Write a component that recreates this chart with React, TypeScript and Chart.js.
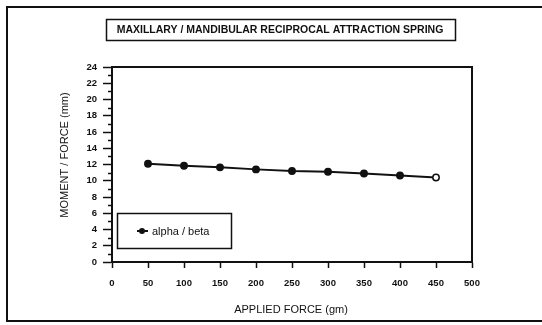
import React, { useEffect, useRef } from "react";
import { Chart, registerables } from "chart.js";

Chart.register(...registerables);

// ---- data ----
const appliedForce = [50, 100, 150, 200, 250, 300, 350, 400, 450];
const momentForceRatio = [12.1, 11.85, 11.65, 11.4, 11.2, 11.1, 10.9, 10.65, 10.4];
const seriesLabel = "alpha / beta";
const chartTitle = "MAXILLARY / MANDIBULAR RECIPROCAL ATTRACTION SPRING";
const xAxisTitle = "APPLIED FORCE (gm)";
const yAxisTitle = "MOMENT / FORCE (mm)";
const xRange = [0, 500];
const xStep = 50;
const yRange = [0, 24];
const yLabelStep = 2;

const FONT = '"Liberation Sans", Arial, Helvetica, sans-serif';
const INK = "#111";

const decorPlugin = {
  id: "decor",
  afterDraw(chart: any) {
    const ctx = chart.ctx as CanvasRenderingContext2D;
    const { left, right, top, bottom } = chart.chartArea;
    ctx.save();
    ctx.strokeStyle = INK;
    ctx.fillStyle = INK;

    // outer frame (right side runs off the page)
    ctx.lineWidth = 2;
    ctx.strokeRect(7, 7, 545, 314);

    // title box
    ctx.lineWidth = 1.5;
    ctx.strokeRect(106.5, 19.5, 349, 21);
    ctx.font = `bold 10.5px ${FONT}`;
    ctx.textAlign = "center";
    ctx.textBaseline = "middle";
    ctx.fillText(chartTitle, 280, 30.5);

    // plot frame top and right
    ctx.lineWidth = 2;
    ctx.beginPath();
    ctx.moveTo(left, top);
    ctx.lineTo(right, top);
    ctx.lineTo(right, bottom);
    ctx.stroke();

    // minor y ticks
    const ys = chart.scales.y;
    ctx.lineWidth = 1.5;
    for (let v = yRange[0] + 1; v < yRange[1]; v += yLabelStep) {
      const y = Math.round(ys.getPixelForValue(v)) + 0.5;
      ctx.beginPath();
      ctx.moveTo(left - 4, y);
      ctx.lineTo(left, y);
      ctx.stroke();
    }

    // axis titles
    ctx.font = `11px ${FONT}`;
    ctx.textAlign = "center";
    ctx.textBaseline = "middle";
    ctx.fillText(xAxisTitle, 291, 310);
    ctx.save();
    ctx.translate(65, 155);
    ctx.rotate(-Math.PI / 2);
    ctx.fillText(yAxisTitle, 0, 0);
    ctx.restore();

    // legend
    ctx.lineWidth = 1.5;
    ctx.strokeRect(117.5, 213.5, 114, 35);
    ctx.lineWidth = 2;
    ctx.beginPath();
    ctx.moveTo(137, 231);
    ctx.lineTo(148, 231);
    ctx.stroke();
    ctx.beginPath();
    ctx.arc(142, 231, 3, 0, Math.PI * 2);
    ctx.fill();
    ctx.font = `11px ${FONT}`;
    ctx.textAlign = "left";
    ctx.fillText(seriesLabel, 152, 231.5);

    ctx.restore();
  },
};

export default function App() {
  const canvasRef = useRef<HTMLCanvasElement | null>(null);

  useEffect(() => {
    const canvas = canvasRef.current;
    if (!canvas) return;
    const chart = new Chart(canvas, {
      type: "line",
      data: {
        datasets: [
          {
            label: seriesLabel,
            data: appliedForce.map((x, i) => ({ x, y: momentForceRatio[i] })),
            borderColor: INK,
            borderWidth: 2,
            pointRadius: 3.2,
            pointBackgroundColor: appliedForce.map((_, i) =>
              i === appliedForce.length - 1 ? "#fff" : INK
            ),
            pointBorderColor: INK,
            pointBorderWidth: 1.5,
            tension: 0,
          },
        ],
      },
      options: {
        responsive: false,
        animation: false,
        devicePixelRatio: 1,
        layout: { padding: { left: 0, top: 67, right: 70, bottom: 0 } },
        plugins: {
          legend: { display: false },
          tooltip: { enabled: false },
          title: { display: false },
        },
        scales: {
          x: {
            type: "linear",
            min: xRange[0],
            max: xRange[1],
            afterFit: (scale: any) => {
              scale.height = 63;
            },
            ticks: {
              stepSize: xStep,
              autoSkip: false,
              maxRotation: 0,
              padding: 10,
              color: INK,
              font: { family: FONT, size: 9.5, weight: "bold" },
            },
            grid: {
              drawOnChartArea: false,
              drawTicks: true,
              tickLength: 6,
              tickWidth: 1.5,
              tickColor: INK,
            },
            border: { display: true, color: INK, width: 2 },
          },
          y: {
            type: "linear",
            min: yRange[0],
            max: yRange[1],
            afterFit: (scale: any) => {
              scale.width = 112;
            },
            ticks: {
              stepSize: yLabelStep,
              autoSkip: false,
              padding: 6,
              color: INK,
              font: { family: FONT, size: 9.5, weight: "bold" },
            },
            grid: {
              drawOnChartArea: false,
              drawTicks: true,
              tickLength: 9,
              tickWidth: 1.5,
              tickColor: INK,
            },
            border: { display: true, color: INK, width: 2 },
          },
        },
      },
      plugins: [decorPlugin],
    });
    return () => chart.destroy();
  }, []);

  return (
    <div style={{ position: "absolute", left: 0, top: 0, width: 542, height: 325, background: "#fff" }}>
      <canvas ref={canvasRef} width={542} height={325} style={{ display: "block" }} />
    </div>
  );
}
